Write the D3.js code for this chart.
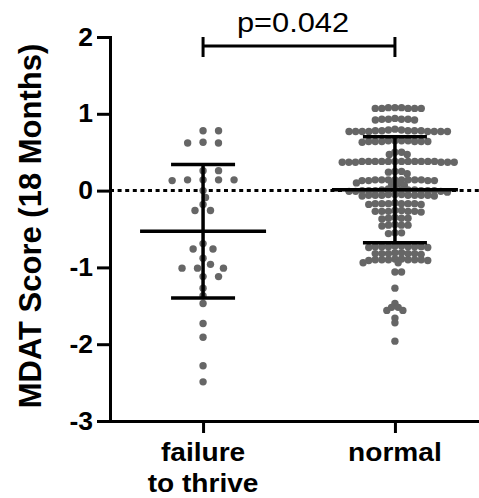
<!DOCTYPE html>
<html>
<head>
<meta charset="utf-8">
<script src="https://cdn.jsdelivr.net/npm/d3@7"></script>
<style>
body { margin: 0; background: #fff; }
svg { display: block; }
text { font-family: "Liberation Sans", Arial, sans-serif; fill: #000; }
</style>
</head>
<body>
<div id="chart"></div>
<script>
// Categories and labels
var groups = ['failure to thrive', 'normal'];
var groupLabels = [['failure', 'to thrive'], ['normal']];
var yTicks = [-3, -2, -1, 0, 1, 2];
var yTitle = 'MDAT Score (18 Months)';
var pLabel = 'p=0.042';

// Mean and SD drawn as lines
var groupMeans = [-0.53, 0.01];
var groupSD = [0.87, 0.69];

// Individual scores
var failureValues = [
    0.78, 0.78, 0.63, 0.62, 0.62, 0.26, 0.26,
    0.14, 0.14, 0.14, 0.13, 0.14, 0.00, -0.09, -0.18, -0.26, -0.26,
    -0.69, -0.76, -0.76, -0.88, -0.96, -1.01, -1.01, -1.01,
    -1.12, -1.12, -1.27, -1.37, -1.47, -1.73, -1.91, -2.28, -2.49
];

var normalValues = [
    1.08, 1.07, 1.07, 1.08, 1.07, 1.07, 1.08, 1.07,
    0.93, 0.92, 0.93, 0.93, 0.92, 0.94, 0.93,
    0.78, 0.77, 0.78, 0.77, 0.77, 0.78, 0.77, 0.79, 0.77, 0.78, 0.77, 0.77, 0.80, 0.79, 0.77, 0.78,
    0.65, 0.64, 0.65, 0.64, 0.64, 0.65, 0.63, 0.64, 0.65, 0.64, 0.64,
    0.50, 0.50, 0.47, 0.47,
    0.38, 0.37, 0.38, 0.38, 0.37, 0.38, 0.38, 0.37, 0.38, 0.38, 0.37, 0.38, 0.38, 0.37, 0.38, 0.38, 0.37, 0.38,
    0.25, 0.24, 0.25, 0.22,
    0.14, 0.14, 0.13, 0.14, 0.14, 0.13, 0.14, 0.14, 0.13, 0.14, 0.14, 0.13,
    0.09, 0.08, 0.07, 0.10,
    0.02, 0.01, 0.00, -0.01, 0.00, 0.01, 0.00, -0.01, 0.02, 0.00, 0.01, 0.00, -0.01, 0.00, 0.01, -0.02,
    -0.06, -0.06, -0.05, -0.07, -0.06, -0.06, -0.05, -0.06, -0.07, -0.06, -0.06, -0.05,
    -0.17, -0.17, -0.18, -0.17, -0.16, -0.17, -0.18, -0.17, -0.17,
    -0.27, -0.27, -0.26, -0.28, -0.27, -0.27, -0.26, -0.27,
    -0.36, -0.36, -0.35, -0.37, -0.36,
    -0.45, -0.45, -0.44, -0.46, -0.45,
    -0.55, -0.56, -0.55,
    -0.73, -0.73, -0.72, -0.74, -0.73, -0.73, -0.72, -0.73, -0.74, -0.73,
    -0.82, -0.82, -0.81, -0.83, -0.82, -0.82, -0.81, -0.82,
    -0.90, -0.90, -0.89, -0.91, -0.90, -0.90, -0.89, -0.90, -0.91, -0.90,
    -0.94, -0.94, -1.06, -1.06,
    -1.27, -1.47, -1.52, -1.52, -1.56, -1.56, -1.66, -1.72, -1.96
];

var groupValues = [failureValues, normalValues];

// Size variables
var width = 479;
var height = 498;

var svg = d3.select('#chart')
    .append('svg')
    .attr('width', width)
    .attr('height', height);

// Scales
var y = d3.scaleLinear()
    .domain([-3, 2])
    .range([421, 37]);

var x = d3.scalePoint()
    .domain(groups)
    .range([110, 488])
    .padding(0.485);

// Horizontal widening so the text matches the chart's wide lettering
function stretch(sel, k) {
    sel.each(function() {
        var w = this.getComputedTextLength();
        this.setAttribute('textLength', w * k);
        this.setAttribute('lengthAdjust', 'spacingAndGlyphs');
    });
}

// Zero reference line
svg.append('line')
    .attr('x1', 110)
    .attr('x2', width)
    .attr('y1', y(0))
    .attr('y2', y(0))
    .attr('stroke', '#000')
    .attr('stroke-width', 3)
    .attr('stroke-dasharray', '4,3.6');

// Beeswarm layout: put each point as close to the centre as it fits
function swarm(values, dxMin, dyMin) {
    var pts = values.map((v) => ({ v: v, py: y(v) }))
        .sort((a, b) => a.py - b.py);
    var placed = [];
    pts.forEach((p) => {
        var blocks = [];
        placed.forEach((q) => {
            var dy = Math.abs(q.py - p.py);
            if (dy < dyMin) {
                var w = dxMin * Math.sqrt(1 - (dy / dyMin) * (dy / dyMin));
                blocks.push([q.dx - w, q.dx + w]);
            }
        });
        var cands = [0];
        blocks.forEach((b) => cands.push(b[0], b[1]));
        cands.sort((a, b) => Math.abs(a) - Math.abs(b) || b - a);
        p.dx = cands.find((c) => blocks.every((b) => c <= b[0] + 1e-6 || c >= b[1] - 1e-6));
        placed.push(p);
    });
    return pts;
}

var spacingX = [15.5, 6.6];
var spacingY = [7, 4.4];

groups.forEach((g, i) => {
    var pts = swarm(groupValues[i], spacingX[i], spacingY[i]);
    svg.append('g')
        .selectAll('circle')
        .data(pts)
        .enter()
        .append('circle')
        .attr('cx', (d) => x(g) + d.dx)
        .attr('cy', (d) => d.py)
        .attr('r', 3.7)
        .attr('fill', '#666');
});

// Mean and SD lines
groups.forEach((g, i) => {
    var cx = x(g);
    var m = groupMeans[i];
    var sd = groupSD[i];
    var err = svg.append('g')
        .attr('stroke', '#000')
        .attr('stroke-width', 3.5);
    err.append('line')
        .attr('x1', cx - 63).attr('x2', cx + 63)
        .attr('y1', y(m)).attr('y2', y(m));
    err.append('line')
        .attr('x1', cx).attr('x2', cx)
        .attr('y1', y(m + sd)).attr('y2', y(m - sd));
    [m + sd, m - sd].forEach((v) => {
        err.append('line')
            .attr('x1', cx - 32).attr('x2', cx + 32)
            .attr('y1', y(v)).attr('y2', y(v));
    });
});

// Y axis
var yAxis = svg.append('g')
    .attr('transform', 'translate(110, 0)')
    .call(d3.axisLeft(y)
        .tickValues(yTicks)
        .tickSize(13)
        .tickSizeOuter(0)
        .tickPadding(4)
        .tickFormat((d) => String(d)));

// X axis
var xAxis = svg.append('g')
    .attr('transform', 'translate(0, 421)')
    .call(d3.axisBottom(x)
        .tickSize(12)
        .tickSizeOuter(0)
        .tickFormat(''));

[yAxis, xAxis].forEach((ax) => {
    ax.select('.domain')
        .attr('stroke-width', 3)
        .attr('stroke-linecap', 'square');
    ax.selectAll('.tick line')
        .attr('stroke-width', 3);
});

yAxis.selectAll('.tick text')
    .attr('font-size', 25)
    .attr('font-weight', 'bold')
    .attr('font-family', '"Liberation Sans", Arial, sans-serif')
    .attr('fill', '#000')
    .call(stretch, 1.06);

// Group labels
groups.forEach((g, i) => {
    groupLabels[i].forEach((line, j) => {
        svg.append('text')
            .attr('x', x(g))
            .attr('y', 461 + j * 31)
            .attr('text-anchor', 'middle')
            .attr('font-size', 26)
            .attr('font-weight', 'bold')
            .text(line)
            .call(stretch, 1.08);
    });
});

// Y axis title
svg.append('text')
    .attr('transform', 'rotate(-90)')
    .attr('x', -226)
    .attr('y', 41)
    .attr('text-anchor', 'middle')
    .attr('font-size', 31)
    .attr('font-weight', 'bold')
    .text(yTitle);

// Significance bracket
var x0 = x(groups[0]);
var x1 = x(groups[1]);
var bracket = svg.append('g')
    .attr('stroke', '#000')
    .attr('stroke-width', 3);
bracket.append('line')
    .attr('x1', x0).attr('x2', x1)
    .attr('y1', 46).attr('y2', 46);
[x0, x1].forEach((bx) => {
    bracket.append('line')
        .attr('x1', bx).attr('x2', bx)
        .attr('y1', 37).attr('y2', 57);
});

svg.append('text')
    .attr('x', (x0 + x1) / 2 - 6)
    .attr('y', 32)
    .attr('text-anchor', 'middle')
    .attr('font-size', 28)
    .text(pLabel)
    .call(stretch, 1.1);
</script>
</body>
</html>
